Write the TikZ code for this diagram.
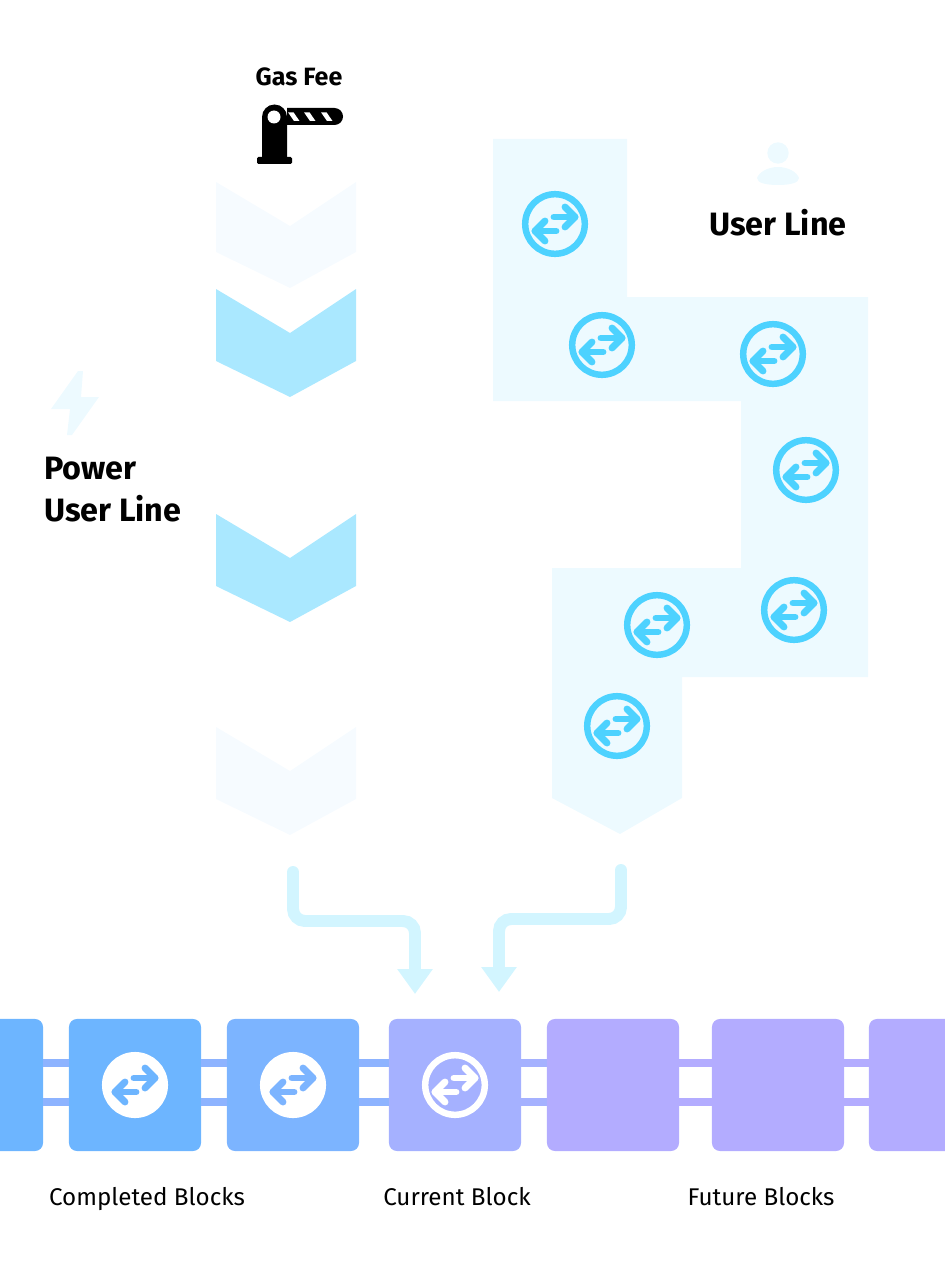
\documentclass[tikz,border=0pt]{standalone}
\usepackage{fontspec}
\setmainfont{Fira Sans}
\usepackage{xcolor}
\usetikzlibrary{arrows.meta}

\definecolor{paleblue}{HTML}{EDFAFF}
\definecolor{palechevron}{HTML}{F6FBFF}
\definecolor{midchevron}{HTML}{AAE8FF}
\definecolor{swapcyan}{HTML}{4DD2FF}
\definecolor{flowblue}{HTML}{D2F5FF}
\definecolor{blockA}{HTML}{6DB5FF}
\definecolor{blockB}{HTML}{7CB4FF}
\definecolor{blockC}{HTML}{A5B1FF}
\definecolor{blockD}{HTML}{B3ACFF}
\definecolor{linkA}{HTML}{8DB3FF}

\tikzset{
    block/.style={rounded corners=.2cm, minimum size=3.3cm, inner sep=0pt},
    blocklink/.style={line width=5.7pt},
    flowline/.style={draw=flowblue, line width=8.5pt, rounded corners=.3cm, line cap=round,
                     -{Triangle[width=.85cm,length=.625cm]}},
    pics/swapicon/.style n args={3}{code={
        \draw[draw=#1, fill=#2, line width=4.6pt] (0,0) circle (29.8);
        \begin{scope}[draw=#3, line width=4.9pt, line cap=round, line join=round]
            \draw (-1,-7) -- (20,-7);
            \draw (10,-17) -- (20,-7) -- (10,3);
            \draw (1,7) -- (-20,7);
            \draw (-10,-3) -- (-20,7) -- (-10,17);
        \end{scope}
    }}
}

\begin{document}
\begin{tikzpicture}[x=.025cm, y=-.025cm]
    \clip (0,0) rectangle (945,1261);

    % user line panel
    \fill[paleblue] (493,139) -- (627,139) -- (627,297) -- (868,297) -- (868,677) -- (682,677)
        -- (682,798) -- (620,834) -- (552,798) -- (552,568) -- (741,568) -- (741,401) -- (493,401) -- cycle;
    \foreach \x/\y in {555/224, 602/345, 773/354, 806/470, 794/610, 657/625, 617/726}
        \pic at (\x,\y) {swapicon={swapcyan}{paleblue}{swapcyan}};

    % power user chevrons
    \foreach \off/\low/\col in {0/0/palechevron, 107/2/midchevron, 332/2/midchevron, 545/2/palechevron}
        \fill[\col] (216,182+\off) -- (290,226+\off) -- (356,182+\off) -- (356,252+\off+\low)
            -- (290,288+\off+\low) -- (216,252+\off+\low) -- cycle;

    % gate
    \fill[black] (262,157) -- (262,117) arc (180:360:12.5) -- (287,108) -- (334.5,108)
        arc (-90:90:8.5) -- (287,125) -- (287,157) -- cycle;
    \fill[black, rounded corners=1pt] (257,164) -- (257,157) -- (292,157) -- (292,164) -- cycle;
    \fill[white] (274,117) circle (6.5);
    \foreach \off in {0,16,33}
        \fill[white] (288+\off,112.3) -- (293.5+\off,112.3) -- (299.5+\off,121) -- (294+\off,121) -- cycle;

    % user icon
    \fill[paleblue] (778,153) circle (10.7);
    \fill[paleblue] (757,178) .. controls (759,172) and (768,167) .. (778,167)
        .. controls (788,167) and (797,172) .. (799,178)
        .. controls (799,183) and (790,185) .. (778,185)
        .. controls (766,185) and (757,183) .. (757,178) -- cycle;

    % lightning
    \fill[paleblue] (78,371) -- (83,371) -- (81,397) -- (99,397) -- (72,435) -- (67,435)
        -- (70,409) -- (51,409) -- cycle;

    % labels
    \begin{scope}[every node/.style={inner sep=0pt, anchor=base}]
        \node[font=\fontsize{17.8}{20}\selectfont\bfseries] (gasfee) at (299,86) {Gas Fee};
        \node[font=\fontsize{23}{26}\selectfont\bfseries] (userline) at (778,235) {User Line};
        \node[font=\fontsize{23}{26}\selectfont\bfseries, anchor=base west] (power) at (44,479) {Power};
        \node[font=\fontsize{23}{26}\selectfont\bfseries, anchor=base west] (poweruser) at (44,521) {User Line};
        \node[font=\fontsize{17.2}{19}\selectfont] (completed) at (147,1205) {Completed Blocks};
        \node[font=\fontsize{17.2}{19}\selectfont] (current) at (457,1205) {Current Block};
        \node[font=\fontsize{17.2}{19}\selectfont] (future) at (761,1205) {Future Blocks};
    \end{scope}

    % blocks
    \begin{scope}[every node/.style={block}]
        \node[fill=blockA] (b1) at (-23,1085) {};
        \node[fill=blockA] (b2) at (135,1085) {};
        \node[fill=blockB] (b3) at (293,1085) {};
        \node[fill=blockC] (b4) at (455,1085) {};
        \node[fill=blockD] (b5) at (613,1085) {};
        \node[fill=blockD] (b6) at (778,1085) {};
        \node[fill=blockD] (b7) at (935,1085) {};
    \end{scope}

    % links between blocks
    \foreach \a/\b/\col in {b1/b2/linkA, b2/b3/linkA, b3/b4/linkA, b4/b5/blockC, b5/b6/blockD, b6/b7/blockD} {
        \draw[blocklink, draw=\col] ([yshift=.55cm]\a.east) -- ([yshift=.55cm]\b.west);
        \draw[blocklink, draw=\col] ([yshift=-.425cm]\a.east) -- ([yshift=-.425cm]\b.west);
    }

    \pic at (b2) {swapicon={white}{white}{blockA}};
    \pic at (b3) {swapicon={white}{white}{blockB}};
    \pic at (b4) {swapicon={white}{blockC}{white}};

    % flows into the current block
    \coordinate (powerout) at (293,872);
    \coordinate (powerturn) at (415,921);
    \coordinate (powerin) at (415,994);
    \coordinate (userout) at (621,870);
    \coordinate (userturn) at (499,919);
    \coordinate (userin) at (499,992);
    \draw[flowline] (powerout) |- (powerturn) -- (powerin);
    \draw[flowline] (userout) |- (userturn) -- (userin);
\end{tikzpicture}
\end{document}
